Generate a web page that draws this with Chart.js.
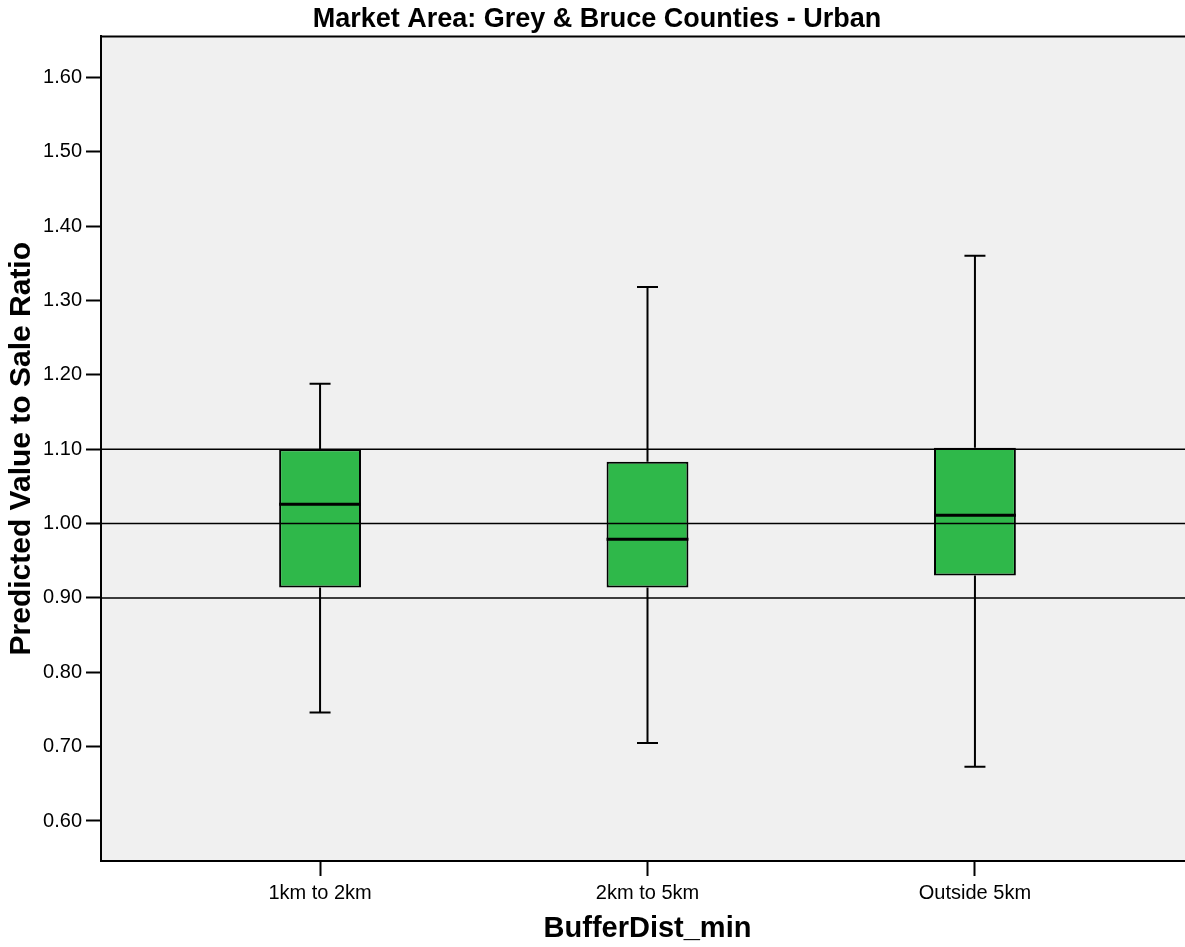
<!DOCTYPE html>
<html>
<head>
<meta charset="utf-8">
<script src="https://cdn.jsdelivr.net/npm/chart.js@4/dist/chart.umd.min.js"></script>
<style>
  html, body { margin: 0; padding: 0; background: #ffffff; overflow: hidden; }
  #wrap { width: 1185px; height: 947px; overflow: hidden; position: relative; }
  canvas { display: block; }
</style>
</head>
<body>
<div id="wrap"><canvas id="c" width="1200" height="947"></canvas></div>
<script>
// ---- Data ----
const categories   = ['1km to 2km', '2km to 5km', 'Outside 5km'];
const whiskerLow   = [0.746, 0.705, 0.673];
const quartile1    = [0.914, 0.914, 0.930];
const medians      = [1.026, 0.979, 1.011];
const quartile3    = [1.100, 1.083, 1.102];
const whiskerHigh  = [1.188, 1.318, 1.360];
const yTickValues  = [0.60, 0.70, 0.80, 0.90, 1.00, 1.10, 1.20, 1.30, 1.40, 1.50, 1.60];
const referenceLines = [0.90, 1.00, 1.10];

const FONT = '"Liberation Sans", Arial, Helvetica, sans-serif';

const boxData = categories.map((c, i) => ({ x: i, y: [quartile1[i], quartile3[i]] }));

const boxPlugin = {
  id: 'boxExtras',
  beforeDraw(chart) {
    const { ctx, chartArea: a } = chart;
    ctx.save();
    ctx.fillStyle = '#f0f0f0';
    ctx.fillRect(a.left, a.top, a.right - a.left, a.bottom - a.top);
    ctx.restore();
  },
  afterDatasetsDraw(chart) {
    const { ctx, chartArea: a, scales } = chart;
    const xs = scales.x, ys = scales.y;
    ctx.save();
    ctx.strokeStyle = '#000000';
    ctx.lineCap = 'butt';
    const meta = chart.getDatasetMeta(0);
    categories.forEach((c, i) => {
      const cx = xs.getPixelForValue(i);
      const yLo = ys.getPixelForValue(whiskerLow[i]);
      const yQ1 = ys.getPixelForValue(quartile1[i]);
      const yQ3 = ys.getPixelForValue(quartile3[i]);
      const yHi = ys.getPixelForValue(whiskerHigh[i]);
      const yMed = ys.getPixelForValue(medians[i]);
      ctx.lineWidth = 2;
      ctx.beginPath();
      ctx.moveTo(cx, yQ3); ctx.lineTo(cx, yHi);
      ctx.moveTo(cx, yQ1); ctx.lineTo(cx, yLo);
      ctx.moveTo(cx - 10.5, yHi); ctx.lineTo(cx + 10.5, yHi);
      ctx.moveTo(cx - 10.5, yLo); ctx.lineTo(cx + 10.5, yLo);
      ctx.stroke();
      // median
      const bar = meta.data[i];
      const half = bar.width / 2;
      ctx.lineWidth = 3;
      ctx.beginPath();
      ctx.moveTo(cx - half, yMed); ctx.lineTo(cx + half, yMed);
      ctx.stroke();
    });
    // reference lines
    ctx.lineWidth = 1.5;
    referenceLines.forEach(v => {
      const y = ys.getPixelForValue(v);
      ctx.beginPath();
      ctx.moveTo(a.left, y); ctx.lineTo(a.right, y);
      ctx.stroke();
    });
    // top and right frame
    ctx.lineWidth = 2;
    ctx.beginPath();
    ctx.moveTo(a.left, a.top); ctx.lineTo(a.right, a.top); ctx.lineTo(a.right, a.bottom);
    ctx.stroke();
    ctx.restore();
  }
};

new Chart(document.getElementById('c'), {
  type: 'bar',
  data: {
    datasets: [{
      data: boxData,
      backgroundColor: '#2fb84a',
      borderColor: '#000000',
      borderWidth: 2,
      borderSkipped: false,
      barPercentage: 0.25,
      categoryPercentage: 1.0
    }]
  },
  plugins: [boxPlugin],
  options: {
    responsive: false,
    animation: false,
    layout: { padding: { left: 0, right: 6, top: 0, bottom: 0 } },
    plugins: {
      legend: { display: false },
      tooltip: { enabled: false },
      title: {
        display: true,
        text: 'Market Area: Grey & Bruce Counties - Urban',
        color: '#000000',
        font: { family: FONT, size: 27, weight: 'bold' },
        padding: { top: 3, bottom: 1 }
      }
    },
    scales: {
      x: {
        type: 'linear',
        offset: false,
        min: -0.669,
        max: 2.669,
        afterBuildTicks(scale) { scale.ticks = categories.map((c, i) => ({ value: i })); },
        afterFit(scale) { scale.height = 86; },
        ticks: {
          color: '#000000',
          font: { family: FONT, size: 20 },
          padding: 5,
          maxRotation: 0,
          autoSkip: false,
          callback: (v) => categories[v]
        },
        grid: { display: true, offset: false, drawOnChartArea: false, drawTicks: true, tickLength: 15, tickWidth: 2, tickColor: '#000000' },
        border: { display: true, color: '#000000', width: 2 },
        title: {
          display: true,
          text: 'BufferDist_min',
          color: '#000000',
          font: { family: FONT, size: 29, weight: 'bold' },
          padding: { top: 0, bottom: 1 }
        }
      },
      y: {
        type: 'linear',
        min: 0.5462,
        max: 1.6551,
        afterBuildTicks(scale) { scale.ticks = yTickValues.map(v => ({ value: v })); },
        afterFit(scale) { scale.width = 101; },
        ticks: {
          color: '#000000',
          font: { family: FONT, size: 20 },
          padding: 4,
          autoSkip: false,
          callback: (v) => Number(v).toFixed(2)
        },
        grid: { display: true, drawOnChartArea: false, drawTicks: true, tickLength: 15, tickWidth: 2, tickColor: '#000000' },
        border: { display: true, color: '#000000', width: 2 },
        title: {
          display: true,
          text: 'Predicted Value to Sale Ratio',
          color: '#000000',
          font: { family: FONT, size: 30, weight: 'bold' },
          padding: { top: 4, bottom: 0 }
        }
      }
    }
  }
});
</script>
</body>
</html>
